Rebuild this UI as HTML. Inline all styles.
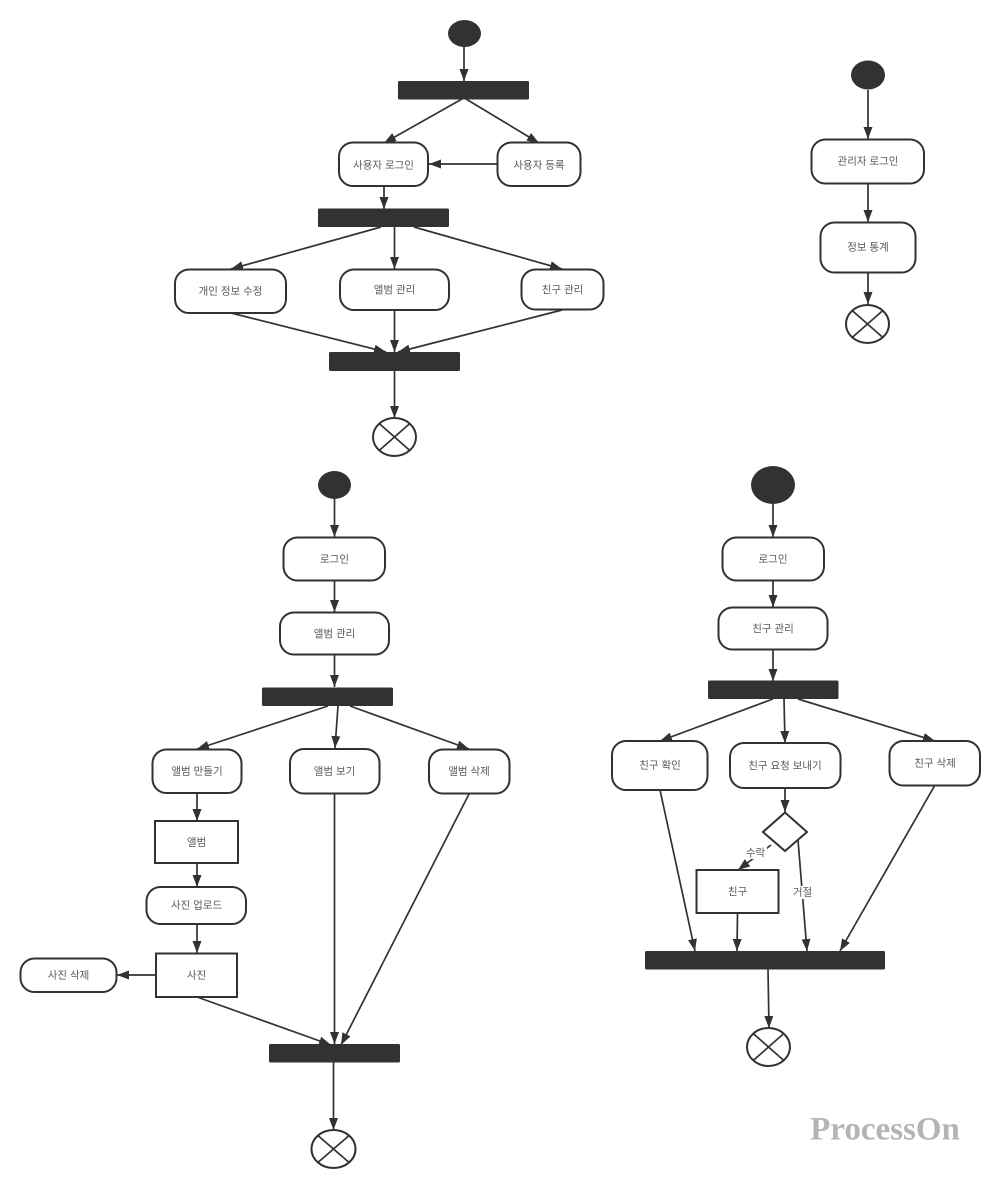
<!DOCTYPE html>
<html><head><meta charset="utf-8"><style>
html,body{margin:0;padding:0;background:#fff}
svg{display:block}
text{font-family:"Liberation Sans","Noto Sans CJK KR",sans-serif;font-size:10.5px;fill:#5a5a5a;text-anchor:middle;dominant-baseline:central;transform:translateY(1.500px)}
.n{fill:#fff;stroke:#323232;stroke-width:2}
.b{fill:#323232;stroke:none}
.l{stroke:#323232;stroke-width:1.7;fill:none;marker-end:url(#a)}
.x{stroke:#323232;stroke-width:1.7;fill:none}
</style></head><body>
<svg width="1000" height="1188" viewBox="0 0 1000 1188" xmlns="http://www.w3.org/2000/svg">
<defs><marker id="a" markerUnits="userSpaceOnUse" markerWidth="14" markerHeight="12" refX="12" refY="5" orient="auto"><path d="M0,0.500L12,5L0,9.500Z" fill="#323232"/></marker></defs>
<rect width="1000" height="1188" fill="#fff"/>

<!-- top diagram -->
<line class="l" x1="464" y1="47" x2="464" y2="81"/>
<line class="l" x1="462" y1="99" x2="384" y2="143"/>
<line class="l" x1="466" y1="99" x2="539" y2="143"/>
<line class="l" x1="497" y1="164" x2="429" y2="164"/>
<line class="l" x1="384" y1="186" x2="384" y2="209"/>
<line class="l" x1="381" y1="227" x2="231" y2="269"/>
<line class="l" x1="394.500" y1="227" x2="394.500" y2="269"/>
<line class="l" x1="414" y1="227" x2="562" y2="269"/>
<line class="l" x1="231" y1="313" x2="386" y2="352"/>
<line class="l" x1="394.500" y1="310" x2="394.500" y2="352"/>
<line class="l" x1="562" y1="310" x2="398" y2="352"/>
<line class="l" x1="394.500" y1="371" x2="394.500" y2="418"/>
<ellipse class="b" cx="464.500" cy="33.500" rx="16.500" ry="13.500"/>
<rect class="b" x="398" y="81" width="131" height="18.500" rx="1.500"/>
<rect class="n" x="339" y="142.500" width="89" height="43.500" rx="14"/>
<text x="383.500" y="164">사용자 로그인</text>
<rect class="n" x="497.500" y="142.500" width="83" height="43.500" rx="14"/>
<text x="539" y="164">사용자 등록</text>
<rect class="b" x="318" y="208.500" width="131" height="18.500" rx="1.500"/>
<rect class="n" x="175" y="269.500" width="111" height="43.500" rx="14"/>
<text x="230.500" y="290">개인 정보 수정</text>
<rect class="n" x="340" y="269.500" width="109" height="40.500" rx="14"/>
<text x="394.500" y="288.500">앨범 관리</text>
<rect class="n" x="521.500" y="269.500" width="82" height="40" rx="14"/>
<text x="562.500" y="288.500">친구 관리</text>
<rect class="b" x="329" y="352" width="131" height="19" rx="1.500"/>
<ellipse class="n" cx="394.500" cy="437" rx="21.500" ry="19"/>
<path class="x" d="M379.300,423.600L409.700,450.400M409.700,423.600L379.300,450.400"/>

<!-- right diagram -->
<line class="l" x1="868" y1="90" x2="868" y2="139"/>
<line class="l" x1="868" y1="184" x2="868" y2="222"/>
<line class="l" x1="868" y1="273" x2="868" y2="304"/>
<ellipse class="b" cx="868" cy="75" rx="17" ry="14.500"/>
<rect class="n" x="811.500" y="139.500" width="112.500" height="44" rx="14"/>
<text x="868" y="160">관리자 로그인</text>
<rect class="n" x="820.500" y="222.500" width="95" height="50" rx="14"/>
<text x="868" y="246">정보 통계</text>
<ellipse class="n" cx="867.500" cy="324" rx="21.500" ry="19"/>
<path class="x" d="M852.300,310.600L882.700,337.400M882.700,310.600L852.300,337.400"/>

<!-- bottom-left diagram -->
<line class="l" x1="334.500" y1="499" x2="334.500" y2="537"/>
<line class="l" x1="334.500" y1="580" x2="334.500" y2="612"/>
<line class="l" x1="334.500" y1="655" x2="334.500" y2="687"/>
<line class="l" x1="328" y1="706" x2="197" y2="749"/>
<line class="l" x1="338" y1="706" x2="335" y2="748"/>
<line class="l" x1="350" y1="706" x2="469" y2="749"/>
<line class="l" x1="197" y1="793" x2="197" y2="821"/>
<line class="l" x1="197" y1="863" x2="197" y2="887"/>
<line class="l" x1="197" y1="924" x2="197" y2="953"/>
<line class="l" x1="156" y1="975" x2="117" y2="975"/>
<line class="l" x1="197" y1="997" x2="331" y2="1045"/>
<line class="l" x1="334.500" y1="794" x2="334.500" y2="1044"/>
<line class="l" x1="469" y1="794" x2="341" y2="1045"/>
<line class="l" x1="333.500" y1="1062" x2="333.500" y2="1130"/>
<ellipse class="b" cx="334.500" cy="485" rx="16.500" ry="14"/>
<rect class="n" x="283.500" y="537.500" width="101.500" height="43" rx="14"/>
<text x="334.500" y="558">로그인</text>
<rect class="n" x="280" y="612.500" width="109" height="42" rx="14"/>
<text x="334.500" y="632.500">앨범 관리</text>
<rect class="b" x="262" y="687.500" width="131" height="18.500" rx="1.500"/>
<rect class="n" x="152.500" y="749.500" width="89" height="43.500" rx="14"/>
<text x="197" y="770">앨범 만들기</text>
<rect class="n" x="290" y="749" width="89.500" height="44.500" rx="14"/>
<text x="334.500" y="770">앨범 보기</text>
<rect class="n" x="429" y="749.500" width="80.500" height="44" rx="14"/>
<text x="469" y="770">앨범 삭제</text>
<rect class="n" x="155" y="821" width="83" height="42"/>
<text x="196.500" y="841">앨범</text>
<rect class="n" x="146.500" y="887" width="99.500" height="37" rx="14"/>
<text x="196.500" y="904">사진 업로드</text>
<rect class="n" x="156" y="953.500" width="81" height="43.500"/>
<text x="196.500" y="974">사진</text>
<rect class="n" x="20.500" y="958.500" width="96" height="33.500" rx="14"/>
<text x="68.500" y="974">사진 삭제</text>
<rect class="b" x="269" y="1044" width="131" height="18.500" rx="1.500"/>
<ellipse class="n" cx="333.500" cy="1149" rx="22" ry="19"/>
<path class="x" d="M318,1135.600L349,1162.400M349,1135.600L318,1162.400"/>

<!-- bottom-right diagram -->
<line class="l" x1="773" y1="504" x2="773" y2="537"/>
<line class="l" x1="773" y1="580" x2="773" y2="607"/>
<line class="l" x1="773" y1="649" x2="773" y2="681"/>
<line class="l" x1="773" y1="699" x2="660" y2="741"/>
<line class="l" x1="784" y1="699" x2="785" y2="743"/>
<line class="l" x1="798" y1="699" x2="935" y2="741"/>
<line class="l" x1="785" y1="788" x2="785" y2="812"/>
<line class="l" x1="771" y1="845" x2="738" y2="870"/>
<line class="l" x1="737.500" y1="913" x2="737" y2="951"/>
<line class="l" x1="798" y1="840" x2="807" y2="951"/>
<line class="l" x1="660" y1="790" x2="695" y2="951"/>
<line class="l" x1="935" y1="785" x2="840" y2="951"/>
<line class="l" x1="768" y1="969" x2="769" y2="1028"/>
<ellipse class="b" cx="773" cy="485" rx="22" ry="19"/>
<rect class="n" x="722.500" y="537.500" width="101.500" height="43" rx="14"/>
<text x="773" y="558">로그인</text>
<rect class="n" x="718.500" y="607.500" width="109" height="42" rx="14"/>
<text x="773" y="627.500">친구 관리</text>
<rect class="b" x="708" y="680.500" width="130.500" height="18.500" rx="1.500"/>
<rect class="n" x="612" y="741" width="95.500" height="49" rx="14"/>
<text x="660" y="764">친구 확인</text>
<rect class="n" x="730" y="743" width="110.500" height="45" rx="14"/>
<text x="785" y="764.500">친구 요청 보내기</text>
<rect class="n" x="889.500" y="741" width="90.500" height="44.500" rx="14"/>
<text x="935" y="762">친구 삭제</text>
<polygon class="n" points="785,812.500 807,832 785,851 763,832"/>
<rect x="745" y="846" width="22" height="13" fill="#fff"/>
<text x="755.500" y="851.500">수락</text>
<rect class="n" x="696.500" y="870" width="82" height="43"/>
<text x="737.500" y="890.500">친구</text>
<rect x="792" y="886" width="21" height="13" fill="#fff"/>
<text x="802.500" y="891">거절</text>
<rect class="b" x="645" y="951" width="240" height="18.500" rx="1.500"/>
<ellipse class="n" cx="768.500" cy="1047" rx="21.500" ry="19"/>
<path class="x" d="M753.300,1033.600L783.700,1060.400M783.700,1033.600L753.300,1060.400"/>

<text x="885" y="1128" style="font-family:'Liberation Serif',serif;font-size:33px;font-weight:bold;fill:#b4b4b4;">ProcessOn</text>
</svg>
</body></html>
